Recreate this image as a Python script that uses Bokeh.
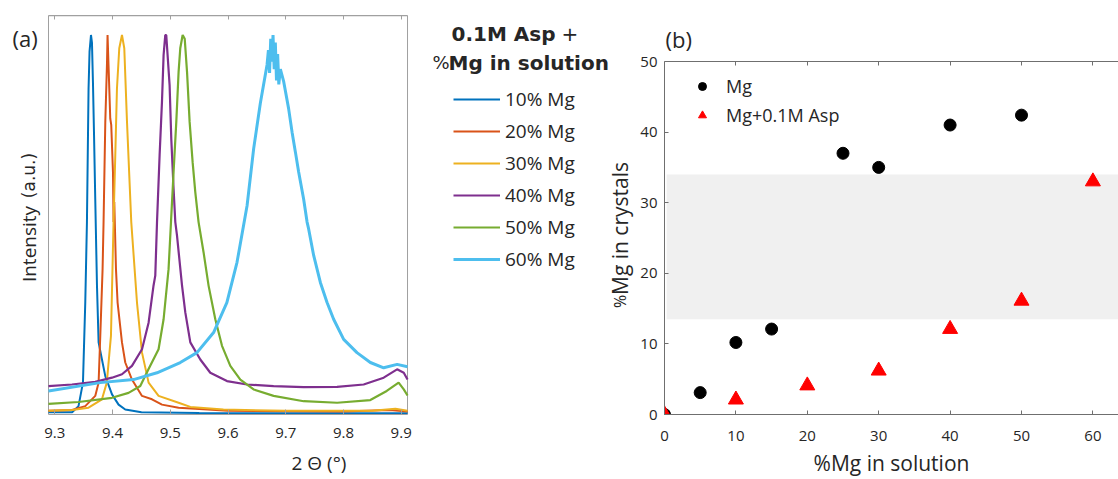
import math
from bokeh.plotting import figure
from bokeh.models import (Legend, LegendItem, Label, FixedTicker, LinearAxis,
                          Range1d, BoxAnnotation)
from bokeh.layouts import row
from bokeh.embed import file_html
from bokeh.resources import INLINE

# ---------------- panel (a): normalised XRD peaks ----------------
theta_10 = [9.289, 9.330, 9.341, 9.3487, 9.3527, 9.3556, 9.3584, 9.3601, 9.3626, 9.3643,
            9.366, 9.3678, 9.370, 9.373, 9.3758, 9.3804, 9.3874, 9.399, 9.4104, 9.422,
            9.45, 9.55, 9.70, 9.911]
int_10 = [0.006, 0.006, 0.022, 0.084, 0.295, 0.507, 0.859, 0.956, 1.0, 0.98,
          0.877, 0.744, 0.568, 0.339, 0.19, 0.154, 0.101, 0.053, 0.026, 0.013,
          0.006, 0.004, 0.003, 0.003]

theta_20 = [9.289, 9.330, 9.3527, 9.370, 9.3758, 9.3787, 9.3827, 9.3844, 9.3874, 9.3904,
            9.3913, 9.393, 9.396, 9.3977, 9.4007, 9.4017, 9.403, 9.4059, 9.4087, 9.4163,
            9.422, 9.4336, 9.451, 9.4683, 9.4856, 9.5144, 9.60, 9.80, 9.88, 9.911]
int_20 = [0.010, 0.012, 0.022, 0.049, 0.084, 0.207, 0.383, 0.507, 0.771, 0.929,
          1.0, 0.92, 0.78, 0.763, 0.639, 0.507, 0.56, 0.383, 0.295, 0.19,
          0.137, 0.092, 0.049, 0.04, 0.026, 0.018, 0.010, 0.008, 0.012, 0.008]

theta_30 = [9.289, 9.330, 9.3584, 9.3816, 9.390, 9.3972, 9.4017, 9.4047, 9.4076, 9.4116,
            9.4163, 9.4203, 9.425, 9.4324, 9.4423, 9.451, 9.4624, 9.4797, 9.5144, 9.5347,
            9.592, 9.70, 9.85, 9.89, 9.911]
int_30 = [0.010, 0.012, 0.018, 0.04, 0.084, 0.207, 0.507, 0.683, 0.859, 0.965,
          1.0, 0.965, 0.771, 0.507, 0.295, 0.163, 0.084, 0.049, 0.031, 0.02,
          0.013, 0.010, 0.010, 0.015, 0.010]

theta_40 = [9.289, 9.3296, 9.370, 9.399, 9.4163, 9.4336, 9.451, 9.4624, 9.471, 9.474,
            9.477, 9.4815, 9.4856, 9.4884, 9.4913, 9.493, 9.4988, 9.5017, 9.5057, 9.5087,
            9.5116, 9.5203, 9.526, 9.5347, 9.552, 9.5693, 9.5982, 9.633, 9.679, 9.731,
            9.789, 9.835, 9.8697, 9.8929, 9.9045, 9.911]
int_40 = [0.075, 0.079, 0.086, 0.097, 0.106, 0.128, 0.172, 0.242, 0.34, 0.366,
          0.507, 0.683, 0.824, 0.947, 1.0, 1.0, 0.868, 0.727, 0.595, 0.507,
          0.472, 0.34, 0.269, 0.19, 0.145, 0.11, 0.088, 0.079, 0.075, 0.072,
          0.073, 0.079, 0.097, 0.119, 0.11, 0.092]

theta_50 = [9.289, 9.341, 9.399, 9.4277, 9.448, 9.4624, 9.4797, 9.4884, 9.497, 9.5012,
            9.5057, 9.5104, 9.5144, 9.5173, 9.5214, 9.525, 9.529, 9.5335, 9.5387, 9.5433,
            9.549, 9.5577, 9.5664, 9.578, 9.5896, 9.604, 9.6213, 9.6444, 9.679, 9.731,
            9.789, 9.8466, 9.875, 9.8956, 9.9045, 9.911]
int_50 = [0.028, 0.033, 0.044, 0.057, 0.075, 0.12, 0.172, 0.251, 0.383, 0.507,
          0.639, 0.771, 0.903, 0.965, 1.0, 0.99, 0.903, 0.771, 0.665, 0.586,
          0.507, 0.427, 0.339, 0.251, 0.181, 0.128, 0.092, 0.066, 0.049, 0.035,
          0.031, 0.038, 0.062, 0.084, 0.066, 0.05]

theta_60 = [9.289, 9.3787, 9.4363, 9.477, 9.5173, 9.5462, 9.575, 9.598, 9.6156, 9.633,
            9.6444, 9.656, 9.6676, 9.670, 9.672, 9.674, 9.676, 9.678, 9.680, 9.682,
            9.684, 9.686, 9.688, 9.6907, 9.6965, 9.705, 9.711, 9.7167, 9.7224, 9.731,
            9.737, 9.7397, 9.7484, 9.760, 9.7716, 9.783, 9.8004, 9.8234, 9.8466, 9.8697,
            9.893, 9.911]
int_60 = [0.062, 0.084, 0.092, 0.11, 0.137, 0.163, 0.216, 0.295, 0.401, 0.55,
          0.70, 0.82, 0.921, 0.96, 0.90, 0.99, 0.93, 1.0, 0.91, 0.98,
          0.88, 0.95, 0.87, 0.91, 0.877, 0.806, 0.744, 0.692, 0.639, 0.568,
          0.507, 0.489, 0.419, 0.348, 0.295, 0.251, 0.198, 0.163, 0.137, 0.123,
          0.132, 0.126]

theta_series = [theta_10, theta_20, theta_30, theta_40, theta_50, theta_60]
int_series = [int_10, int_20, int_30, int_40, int_50, int_60]
series_labels = ["10% Mg", "20% Mg", "30% Mg", "40% Mg", "50% Mg", "60% Mg"]
series_colors = ["#0072BD", "#D95319", "#EDB120", "#7E2F8E", "#77AC30", "#4DBEEE"]
series_widths = [2, 2, 2, 2.2, 2.2, 3]
xticks_a = [9.3, 9.4, 9.5, 9.6, 9.7, 9.8, 9.9]
theta_limits = [9.289, 9.911]
intensity_limits = [0.0, 1.0507]

# ---------------- panel (b): Mg incorporation ----------------
mg_solution = [0, 5, 10, 15, 25, 30, 40, 50]
mg_crystals = [0, 3.1, 10.2, 12.1, 37.0, 35.0, 41.0, 42.4]
asp_solution = [0, 10, 20, 30, 40, 50, 60]
asp_crystals = [0, 2.1, 4.1, 6.2, 12.1, 16.1, 33.0]
band_limits = [13.5, 34.0]
band_left = 0.3
xticks_b = [0, 10, 20, 30, 40, 50, 60]
yticks_b = [0, 10, 20, 30, 40, 50]
crystal_limits = [0, 50]

FONT = "Open Sans"
TXT = "#262626"
BOX = "#a0a0a0"
AX = "#6f6f6f"

# px geometry (canvas starts at page 0,0)
P1_W = 637
P2_LEFT = 27
TOP, FRAME_H, BOTTOM = 14, 400, 65
PX_PER_THETA = 577.2
X0_A = theta_limits[0] - 48 / PX_PER_THETA
Y1_A = 1.054


def lab(fig, x, y, text, size, font=FONT, style="normal", align="left", angle=0.0):
    fig.add_layout(Label(x=x, y=y, text=text,
                         text_font=font, text_font_size=size, text_font_style=style,
                         text_color=TXT, text_align=align, text_baseline="middle",
                         angle=angle))


# ================= figure (a) =================
p1 = figure(x_range=Range1d(X0_A, X0_A + P1_W / PX_PER_THETA), y_range=Range1d(0, Y1_A),
            frame_width=P1_W, frame_height=FRAME_H, y_axis_location=None,
            min_border_left=0, min_border_right=0, min_border_top=TOP, min_border_bottom=BOTTOM,
            output_backend="svg", toolbar_location=None)
p1.grid.visible = False
p1.outline_line_color = None

xa = p1.xaxis[0]
xa.ticker = FixedTicker(ticks=xticks_a)
xa.bounds = (theta_limits[0], theta_limits[1])
xa.major_tick_in = 5
xa.major_tick_out = 0
xa.minor_tick_line_color = None
xa.axis_line_color = BOX
xa.major_tick_line_color = BOX
xa.major_label_text_font = FONT
xa.major_label_text_font_size = "15px"
xa.major_label_text_color = TXT
xa.major_label_standoff = 13
xa.axis_label = "2 \u0398 (\u00b0)"
xa.axis_label_text_font = FONT
xa.axis_label_text_font_size = "19px"
xa.axis_label_text_font_style = "normal"
xa.axis_label_text_color = TXT
xa.axis_label_standoff = 9

top_a = LinearAxis(ticker=FixedTicker(ticks=xticks_a), fixed_location=intensity_limits[1],
                   bounds=(theta_limits[0], theta_limits[1]),
                   major_tick_in=4, major_tick_out=0, minor_tick_line_color=None,
                   axis_line_color=BOX, major_tick_line_color=BOX,
                   major_label_overrides={t: "" for t in xticks_a}, major_label_standoff=0)
p1.add_layout(top_a, "above")

# plot box (a)
p1.quad(left=[theta_limits[0]], right=[theta_limits[1]],
        bottom=[intensity_limits[0]], top=[intensity_limits[1]],
        fill_color=None, line_color=BOX, line_width=1)

items = []
for th, iv, lb, col, lw in zip(theta_series, int_series, series_labels, series_colors, series_widths):
    r = p1.line(th, iv, line_color=col, line_width=lw)
    items.append(LegendItem(label=lb, renderers=[r]))

leg1 = Legend(items=items, location=(453, 142), padding=0, margin=0,
              border_line_color=None, background_fill_alpha=0,
              label_text_font=FONT, label_text_font_size="19px", label_text_color=TXT,
              glyph_width=47, glyph_height=26, label_height=26, label_standoff=5, spacing=6)
p1.add_layout(leg1)


def ax_(px):
    return X0_A + px / PX_PER_THETA


def ay_(py):
    return (TOP + FRAME_H - py) / FRAME_H * Y1_A


lab(p1, ax_(12), ay_(37.5), "(a)", "22px")
lab(p1, ax_(555), ay_(33), "0.1M Asp", "20px", font="DejaVu Sans", style="bold", align="right")
lab(p1, ax_(561), ay_(33), "+", "20px", font="DejaVu Sans")
lab(p1, ax_(432), ay_(62), "%", "18px", font="DejaVu Sans")
lab(p1, ax_(448), ay_(62), "Mg in solution", "20px", font="DejaVu Sans", style="bold")
lab(p1, ax_(28.5), ay_(243.5), "Intensity", "19px", align="center", angle=math.pi / 2)
lab(p1, ax_(28.5), ay_(175), "(a.u.)", "17px", font="DejaVu Sans", align="center", angle=math.pi / 2)
# y-axis title of panel (b), placed in the strip between the two panels
lab(p1, ax_(619), ay_(228), "Mg in crystals", "21px", align="center", angle=math.pi / 2)
lab(p1, ax_(619), ay_(301), "%", "16px", align="center", angle=math.pi / 2)

# ================= figure (b) =================
PX_PER_B_X = 7.14
PX_PER_B_Y = 7.06
P2_FRAME_W = 1118 - P1_W - P2_LEFT
p2 = figure(x_range=Range1d(0, P2_FRAME_W / PX_PER_B_X),
            y_range=Range1d(0, 50 + (61 - TOP) / PX_PER_B_Y),
            frame_width=P2_FRAME_W, frame_height=FRAME_H,
            min_border_left=P2_LEFT, min_border_right=0, min_border_top=TOP, min_border_bottom=BOTTOM,
            output_backend="svg", toolbar_location=None)
p2.grid.visible = False
p2.outline_line_color = None

xb = p2.xaxis[0]
yb = p2.yaxis[0]
for ax, ticks in ((xb, xticks_b), (yb, yticks_b)):
    ax.ticker = FixedTicker(ticks=ticks)
    ax.major_tick_in = 4
    ax.major_tick_out = 0
    ax.minor_tick_line_color = None
    ax.axis_line_color = AX
    ax.major_tick_line_color = AX
    ax.major_label_text_font = FONT
    ax.major_label_text_font_size = "15px"
    ax.major_label_text_color = TXT
    ax.axis_label_text_font = FONT
    ax.axis_label_text_font_size = "21px"
    ax.axis_label_text_font_style = "normal"
    ax.axis_label_text_color = TXT
xb.major_label_standoff = 16
xb.axis_label = "%Mg in solution"
xb.axis_label_standoff = 5
yb.bounds = (crystal_limits[0], crystal_limits[1])
yb.major_label_standoff = 7

top_b = LinearAxis(ticker=FixedTicker(ticks=xticks_b), fixed_location=crystal_limits[1],
                   major_tick_in=4, major_tick_out=0,
                   minor_tick_line_color=None, axis_line_color=AX, major_tick_line_color=AX,
                   major_label_overrides={t: "" for t in xticks_b}, major_label_standoff=0)
p2.add_layout(top_b, "above")

p2.add_layout(BoxAnnotation(bottom=band_limits[0], top=band_limits[1], left=band_left,
                            fill_color="#f0f0f0", fill_alpha=1, line_color=None,
                            level="underlay"))

r_mg = p2.scatter(mg_solution, mg_crystals, marker="circle", size=12,
                  fill_color="black", line_color="black")
r_asp = p2.scatter(asp_solution, asp_crystals, marker="triangle", size=15,
                   fill_color="red", line_color="red")

leg2 = Legend(items=[LegendItem(label="Mg", renderers=[r_mg]),
                     LegendItem(label="Mg+0.1M Asp", renderers=[r_asp])],
              location=(28, 287), padding=0, margin=0,
              border_line_color=None, background_fill_alpha=0,
              label_text_font=FONT, label_text_font_size="18px", label_text_color=TXT,
              glyph_width=20, glyph_height=22, label_height=22, label_standoff=14, spacing=5)
p2.add_layout(leg2)

lab(p2, 0.15, (TOP + FRAME_H - 38) / PX_PER_B_Y, "(b)", "22px")

layout = row(p1, p2)
open("out.html", "w").write(file_html(layout, INLINE))
